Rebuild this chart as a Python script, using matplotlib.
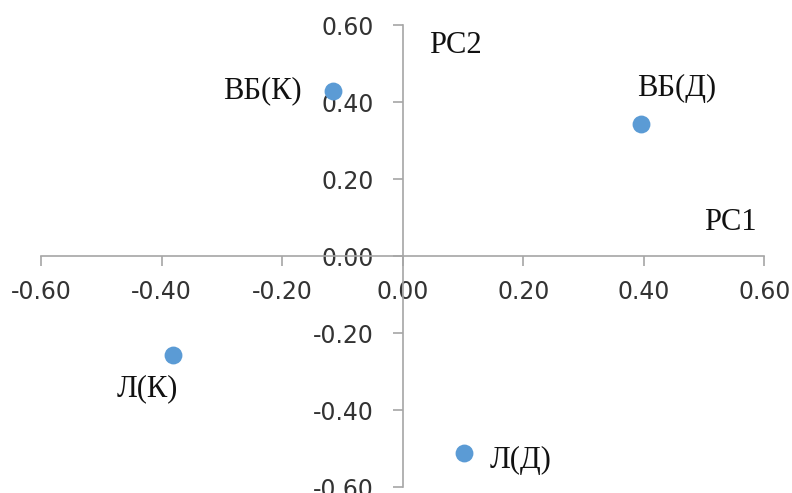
import matplotlib.pyplot as plt

# PCA scores
labels = ["ВБ(К)", "ВБ(Д)", "Л(К)", "Л(Д)"]
pc1 = [-0.115, 0.395, -0.382, 0.101]
pc2 = [0.429, 0.343, -0.257, -0.512]
ticks = [-0.6, -0.4, -0.2, 0.0, 0.2, 0.4, 0.6]

# label offsets (points) relative to each marker
offsets = [(-51, 0), (26, 26), (-18, -24), (41, -5)]

fig = plt.figure(figsize=(7.92, 4.93), dpi=100)
ax = fig.add_axes([0.052, 0.012, 0.913, 0.937])

ax.scatter(pc1, pc2, s=165, color="#5B9BD5", zorder=3, linewidths=0)

serif = dict(fontsize=22, family="Liberation Serif", color="#111111",
             ha="center", va="center")
for lab, x, y, off in zip(labels, pc1, pc2, offsets):
    ax.annotate(lab, (x, y), xytext=off, textcoords="offset points", **serif)

ax.text(0.088, 0.548, "PC2", **serif)
ax.text(0.544, 0.088, "PC1", **serif)

ax.set_xlim(-0.6, 0.6)
ax.set_ylim(-0.6, 0.6)
ax.spines["left"].set_position("zero")
ax.spines["bottom"].set_position("zero")
ax.spines["right"].set_visible(False)
ax.spines["top"].set_visible(False)
for s in ("left", "bottom"):
    ax.spines[s].set_color("#A6A6A6")
    ax.spines[s].set_linewidth(1.2)

ax.set_xticks(ticks)
ax.set_yticks(ticks)
ax.set_xticklabels([f"{t:.2f}" for t in ticks])
ax.set_yticklabels([f"{t:.2f}" for t in ticks])
ax.tick_params(axis="x", direction="out", length=7, width=1.2, color="#A6A6A6",
               labelsize=17, labelcolor="#333333", pad=10)
ax.tick_params(axis="y", direction="out", length=7, width=1.2, color="#A6A6A6",
               labelsize=17, labelcolor="#333333", pad=14)
for t in ax.get_xticklabels() + ax.get_yticklabels():
    t.set_family("DejaVu Sans")
ax.patch.set_alpha(0)

fig.savefig("out.png", dpi=100)
